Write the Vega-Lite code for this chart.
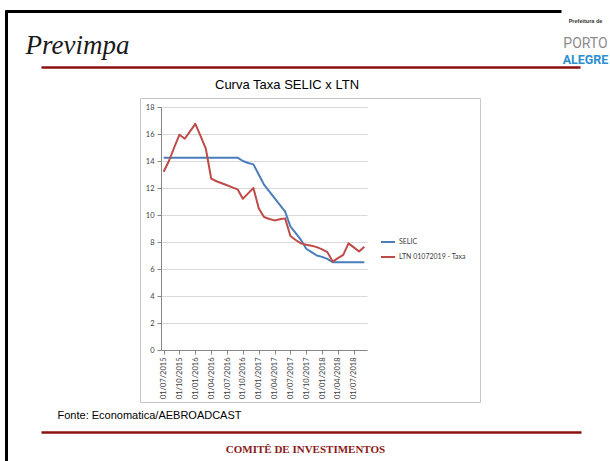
{
  "$schema": "https://vega.github.io/schema/vega-lite/v6.json",
  "autosize": {"type": "none"},
  "width": 340,
  "height": 304,
  "padding": {"left": 140, "top": 98, "right": 130, "bottom": 59},
  "background": "white",
  "title": {
    "text": "Curva Taxa SELIC x LTN",
    "anchor": "middle",
    "frame": "group",
    "dx": -23,
    "dy": 100,
    "offset": 9,
    "baseline": "alphabetic",
    "font": "Liberation Sans",
    "fontSize": 13,
    "fontWeight": "normal",
    "color": "#000000"
  },
  "view": {"stroke": "#c6c6c6", "strokeWidth": 1},
  "resolve": {
    "scale": {"x": "independent", "y": "independent"},
    "axis": {"x": "independent", "y": "independent"}
  },
  "layer": [
    {
      "data": {
        "values": [
          {"d": "01/07/2015", "SELIC": 14.25, "LTN": 13.2},
          {"d": "01/08/2015", "SELIC": 14.25, "LTN": 14.0},
          {"d": "01/09/2015", "SELIC": 14.25, "LTN": 15.0},
          {"d": "01/10/2015", "SELIC": 14.25, "LTN": 15.95},
          {"d": "01/11/2015", "SELIC": 14.25, "LTN": 15.65},
          {"d": "01/12/2015", "SELIC": 14.25, "LTN": 16.2},
          {"d": "01/01/2016", "SELIC": 14.25, "LTN": 16.75},
          {"d": "01/02/2016", "SELIC": 14.25, "LTN": 15.85},
          {"d": "01/03/2016", "SELIC": 14.25, "LTN": 14.9},
          {"d": "01/04/2016", "SELIC": 14.25, "LTN": 12.7},
          {"d": "01/05/2016", "SELIC": 14.25, "LTN": 12.5},
          {"d": "01/06/2016", "SELIC": 14.25, "LTN": 12.35},
          {"d": "01/07/2016", "SELIC": 14.25, "LTN": 12.2},
          {"d": "01/08/2016", "SELIC": 14.25, "LTN": 12.05},
          {"d": "01/09/2016", "SELIC": 14.25, "LTN": 11.9},
          {"d": "01/10/2016", "SELIC": 14.0, "LTN": 11.2},
          {"d": "01/11/2016", "SELIC": 13.85, "LTN": 11.6},
          {"d": "01/12/2016", "SELIC": 13.75, "LTN": 12.0},
          {"d": "01/01/2017", "SELIC": 13.0, "LTN": 10.5},
          {"d": "01/02/2017", "SELIC": 12.25, "LTN": 9.85},
          {"d": "01/03/2017", "SELIC": 11.75, "LTN": 9.7},
          {"d": "01/04/2017", "SELIC": 11.25, "LTN": 9.6},
          {"d": "01/05/2017", "SELIC": 10.75, "LTN": 9.68},
          {"d": "01/06/2017", "SELIC": 10.25, "LTN": 9.75},
          {"d": "01/07/2017", "SELIC": 9.15, "LTN": 8.45},
          {"d": "01/08/2017", "SELIC": 8.65, "LTN": 8.15},
          {"d": "01/09/2017", "SELIC": 8.15, "LTN": 7.9},
          {"d": "01/10/2017", "SELIC": 7.5, "LTN": 7.8},
          {"d": "01/11/2017", "SELIC": 7.25, "LTN": 7.72},
          {"d": "01/12/2017", "SELIC": 7.0, "LTN": 7.62},
          {"d": "01/01/2018", "SELIC": 6.9, "LTN": 7.45},
          {"d": "01/02/2018", "SELIC": 6.75, "LTN": 7.25},
          {"d": "01/03/2018", "SELIC": 6.5, "LTN": 6.55},
          {"d": "01/04/2018", "SELIC": 6.5, "LTN": 6.8},
          {"d": "01/05/2018", "SELIC": 6.5, "LTN": 7.05},
          {"d": "01/06/2018", "SELIC": 6.5, "LTN": 7.9},
          {"d": "01/07/2018", "SELIC": 6.5, "LTN": 7.6},
          {"d": "01/08/2018", "SELIC": 6.5, "LTN": 7.3},
          {"d": "01/09/2018", "SELIC": 6.5, "LTN": 7.65}
        ]
      },
      "transform": [{"fold": ["SELIC", "LTN"], "as": ["serie", "v"]}],
      "mark": {"type": "line", "strokeWidth": 2, "strokeJoin": "round"},
      "encoding": {
        "x": {
          "field": "d",
          "type": "ordinal",
          "sort": null,
          "scale": {"type": "point", "range": [21, 227], "padding": 0.5},
          "axis": {
            "orient": "bottom",
            "offset": -52,
            "values": ["01/07/2015", "01/10/2015", "01/01/2016", "01/04/2016", "01/07/2016", "01/10/2016", "01/01/2017", "01/04/2017", "01/07/2017", "01/10/2017", "01/01/2018", "01/04/2018", "01/07/2018"],
            "labelAngle": 270,
            "labelAlign": "right",
            "labelBaseline": "middle",
            "labelFont": "Lato",
            "labelFontSize": 7.5,
            "labelColor": "#404040",
            "labelPadding": 3,
            "domainColor": "#868686",
            "tickColor": "#868686",
            "tickSize": 4,
            "grid": false,
            "title": "Fonte: Economatica/AEBROADCAST",
            "titleX": -83,
            "titleY": 68,
            "titleAlign": "left",
            "titleBaseline": "alphabetic",
            "titleFont": "Liberation Sans",
            "titleFontSize": 11,
            "titleFontWeight": "normal",
            "titleColor": "#000000"
          }
        },
        "y": {
          "field": "v",
          "type": "quantitative",
          "scale": {"domain": [0, 18], "range": [252, 9], "nice": false, "zero": false},
          "axis": {
            "orient": "left",
            "offset": -21,
            "values": [0, 2, 4, 6, 8, 10, 12, 14, 16, 18],
            "labelFont": "Lato",
            "labelFontSize": 7.5,
            "labelColor": "#404040",
            "labelPadding": 3,
            "domainColor": "#868686",
            "tickColor": "#868686",
            "tickSize": 4,
            "grid": true,
            "gridColor": "#d9d9d9",
            "gridWidth": 1,
            "title": "Prefeitura de",
            "titleAngle": 0,
            "titleX": 424,
            "titleY": -76,
            "titleAlign": "center",
            "titleBaseline": "alphabetic",
            "titleFont": "Liberation Sans",
            "titleFontSize": 5.5,
            "titleFontWeight": "bold",
            "titleColor": "#333333"
          }
        },
        "color": {
          "field": "serie",
          "type": "nominal",
          "scale": {"domain": ["SELIC", "LTN"], "range": ["#4a7ebb", "#be4b48"]},
          "legend": {
            "orient": "none",
            "legendX": 240,
            "legendY": 136,
            "title": null,
            "symbolType": "stroke",
            "symbolSize": 196,
            "symbolStrokeWidth": 2,
            "labelFont": "Lato",
            "labelFontSize": 7,
            "labelColor": "#404040",
            "labelOffset": 3,
            "rowPadding": 3,
            "labelExpr": "datum.label == 'LTN' ? 'LTN 01072019 - Taxa' : datum.label"
          }
        }
      }
    },
    {
      "data": {"values": []},
      "mark": "point",
      "encoding": {
        "x": {
          "field": "a",
          "type": "quantitative",
          "scale": {"domain": [0, 1], "range": [-99, 440]},
          "axis": {
            "orient": "top",
            "offset": 31,
            "domainColor": "#8b1010",
            "domainWidth": 2.5,
            "ticks": false,
            "labels": false,
            "grid": false,
            "title": "Previmpa",
            "titleX": -115,
            "titleY": -14,
            "titleAlign": "left",
            "titleBaseline": "alphabetic",
            "titleFont": "Liberation Serif",
            "titleFontStyle": "italic",
            "titleFontWeight": "normal",
            "titleFontSize": 27,
            "titleColor": "#1a1a1a"
          }
        }
      }
    },
    {
      "data": {"values": []},
      "mark": "point",
      "encoding": {
        "x": {
          "field": "a",
          "type": "quantitative",
          "scale": {"domain": [0, 1], "range": [-99, 441]},
          "axis": {
            "orient": "bottom",
            "offset": 30,
            "domainColor": "#8b1010",
            "domainWidth": 2.5,
            "ticks": false,
            "labels": false,
            "grid": false,
            "title": "COMITÊ DE INVESTIMENTOS",
            "titleX": 165,
            "titleY": 20,
            "titleAlign": "center",
            "titleBaseline": "alphabetic",
            "titleFont": "Liberation Serif",
            "titleFontWeight": "bold",
            "titleFontSize": 11,
            "titleColor": "#8b1a1a"
          }
        }
      }
    },
    {
      "data": {"values": []},
      "mark": "point",
      "encoding": {
        "x": {
          "field": "a",
          "type": "quantitative",
          "scale": {"domain": [0, 1], "range": [-135, 421]},
          "axis": {
            "orient": "top",
            "offset": 87,
            "domainColor": "#000000",
            "domainWidth": 3,
            "ticks": false,
            "labels": false,
            "grid": false,
            "title": "PORTO",
            "titleX": 445,
            "titleY": 36,
            "titleAlign": "center",
            "titleBaseline": "alphabetic",
            "titleFont": "Roboto",
            "titleFontWeight": "normal",
            "titleFontSize": 14,
            "titleColor": "#8c8c8c"
          }
        },
        "y": {
          "field": "b",
          "type": "quantitative",
          "scale": {"domain": [0, 1], "range": [363, -88]},
          "axis": {
            "orient": "left",
            "offset": 134,
            "domainColor": "#000000",
            "domainWidth": 3,
            "ticks": false,
            "labels": false,
            "grid": false,
            "title": "ALEGRE",
            "titleAngle": 0,
            "titleX": 579,
            "titleY": -35,
            "titleAlign": "center",
            "titleBaseline": "alphabetic",
            "titleFont": "Roboto",
            "titleFontWeight": "bold",
            "titleFontSize": 12.5,
            "titleColor": "#2c8fd0"
          }
        }
      }
    }
  ]
}
